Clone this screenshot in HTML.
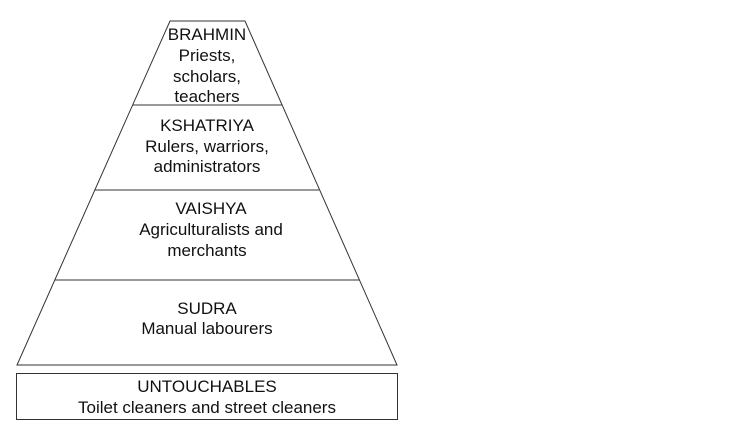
<!DOCTYPE html>
<html><head><meta charset="utf-8"><style>html,body{margin:0;padding:0;background:#fff}svg{display:block}</style></head>
<body>
<svg width="750" height="441" viewBox="0 0 750 441" xmlns="http://www.w3.org/2000/svg">
<g fill="none" stroke="#333" stroke-width="1">
<polygon points="170,21 245,21 397,365 17,365"/>
<line x1="133" y1="105" x2="282" y2="105"/>
<line x1="95" y1="190" x2="319" y2="190"/>
<line x1="55" y1="280" x2="359" y2="280"/>
<rect x="16.5" y="373.5" width="381" height="46"/>
</g>
<g font-family="Liberation Sans, Arial, sans-serif" font-size="17" fill="#111" text-anchor="middle">
<text x="207" y="40">BRAHMIN</text>
<text x="207" y="61">Priests,</text>
<text x="207" y="82">scholars,</text>
<text x="207" y="102">teachers</text>
<text x="207" y="131">KSHATRIYA</text>
<text x="207" y="152">Rulers, warriors,</text>
<text x="207" y="172">administrators</text>
<text x="211" y="214">VAISHYA</text>
<text x="211" y="235">Agriculturalists and</text>
<text x="207" y="256">merchants</text>
<text x="207" y="314">SUDRA</text>
<text x="207" y="334">Manual labourers</text>
<text x="207" y="392">UNTOUCHABLES</text>
<text x="207" y="413">Toilet cleaners and street cleaners</text>
</g>
</svg>
</body></html>
